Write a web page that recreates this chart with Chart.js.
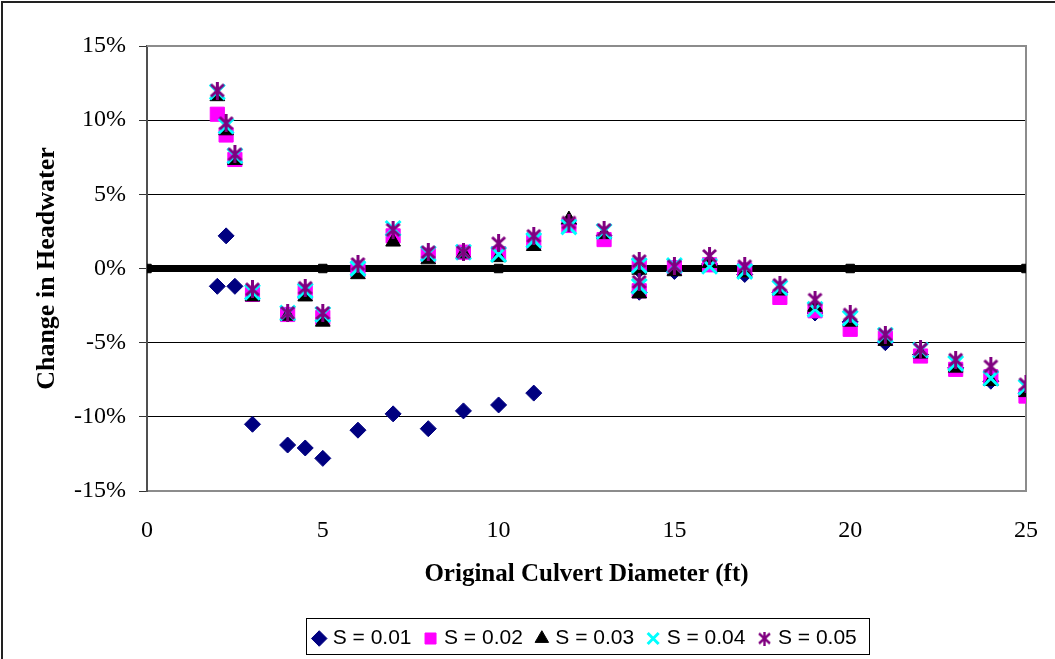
<!DOCTYPE html>
<html>
<head>
<meta charset="utf-8">
<title>Change in Headwater vs Original Culvert Diameter</title>
<script src="https://cdn.jsdelivr.net/npm/chart.js@4/dist/chart.umd.min.js"></script>
<style>
  html, body { margin: 0; padding: 0; background: #fff; }
  #wrap { width: 1055px; height: 659px; }
</style>
</head>
<body>
<div id="wrap"><canvas id="c" width="1055" height="659"></canvas></div>
<script>
// Original culvert diameters (ft); 14 ft appears twice (two culvert cases).
const diameters = [2, 2.25, 2.5, 3, 4, 4.5, 5, 6, 7, 8, 9, 10, 11, 12, 13, 14, 14, 15, 16, 17, 18, 19, 20, 21, 22, 23, 24, 25];

// Change in headwater (%) for each slope
const s001 = [-1.2, 2.2, -1.2, -10.5, -11.9, -12.1, -12.8, -10.9, -9.8, -10.8, -9.6, -9.2, -8.4, 3.0, 2.2, -0.1, -1.6, -0.2, 0.3, -0.4, -1.6, -3.0, -3.6, -5.0, -5.8, -6.7, -7.6, -8.4];
const s002 = [10.4, 9.0, 7.35, -1.75, -3.1, -1.6, -3.3, -0.1, 2.2, 0.9, 1.1, 1.0, 1.8, 2.9, 1.95, 0.2, -1.5, 0.05, 0.25, -0.1, -1.95, -2.85, -4.1, -4.7, -5.9, -6.8, -7.3, -8.6];
const s003 = [11.6, 9.3, 7.3, -1.9, -3.2, -1.9, -3.6, -0.4, 1.8, 0.6, 1.0, 0.75, 1.5, 3.3, 2.3, -0.1, -1.7, -0.2, 0.35, -0.3, -1.5, -2.6, -3.6, -4.9, -5.75, -6.7, -7.6, -8.35];
const s004 = [11.9, 9.6, 7.6, -1.6, -3.0, -1.5, -3.1, 0.0, 2.7, 1.0, 1.1, 0.95, 1.9, 2.8, 2.5, 0.2, -1.2, 0.2, 0.15, -0.2, -1.3, -2.75, -3.35, -4.5, -5.5, -6.4, -7.4, -8.0];
const s005 = [12.0, 9.8, 7.7, -1.4, -3.0, -1.3, -3.0, 0.3, 2.6, 1.1, 1.1, 1.7, 2.2, 3.1, 2.6, 0.5, -0.9, 0.15, 0.85, 0.15, -1.1, -2.1, -3.1, -4.45, -5.45, -6.15, -6.6, -7.8];

const seriesLabels = ['S = 0.01', 'S = 0.02', 'S = 0.03', 'S = 0.04', 'S = 0.05'];

// Zero reference line
const zeroX = [0, 5, 10, 15, 20, 25];
const zeroY = [0, 0, 0, 0, 0, 0];

const yTicks = [-15, -10, -5, 0, 5, 10, 15];
const xTicks = [0, 5, 10, 15, 20, 25];

const serif = "'Liberation Serif', 'Times New Roman', serif";
const sans = "'Liberation Sans', Arial, sans-serif";

function pts(xs, ys) { return xs.map((x, i) => ({ x: x, y: ys[i] })); }

// Asterisk marker: an X with a vertical stroke
function asterisk(w, h, lw, color) {
  const c = document.createElement('canvas');
  c.width = w; c.height = h;
  const g = c.getContext('2d');
  g.strokeStyle = color; g.lineWidth = lw; g.lineCap = 'butt';
  const ix = Math.round(w * 0.1), iy = Math.round(h * 0.15);
  g.beginPath();
  g.moveTo(w / 2, 0); g.lineTo(w / 2, h);
  g.moveTo(ix, iy); g.lineTo(w - ix, h - iy);
  g.moveTo(w - ix, iy); g.lineTo(ix, h - iy);
  g.stroke();
  return c;
}
const starMark = asterisk(17, 18, 3, '#800080');
const starLegend = asterisk(13, 14, 2.4, '#800080');

const frame = {
  id: 'frame',
  beforeDraw(chart) {
    const ctx = chart.ctx;
    ctx.save();
    ctx.fillStyle = '#fff';
    ctx.fillRect(0, 0, chart.width, chart.height);
    ctx.restore();
  },
  beforeDatasetsDraw(chart) {
    const { ctx, chartArea: a } = chart;
    ctx.save();
    ctx.strokeStyle = '#8c8c8c';
    ctx.lineWidth = 2;
    ctx.beginPath();
    ctx.moveTo(a.left, a.top);
    ctx.lineTo(a.right, a.top);
    ctx.lineTo(a.right, a.bottom);
    ctx.stroke();
    ctx.restore();
  },
  afterDraw(chart) {
    const ctx = chart.ctx;
    ctx.save();
    // outer border
    ctx.strokeStyle = '#222';
    ctx.lineWidth = 2;
    ctx.strokeRect(2, 2, chart.width + 20, chart.height + 20);
    // legend box
    const lg = chart.legend;
    const hb = lg.legendHitBoxes;
    if (hb && hb.length) {
      const first = hb[0], last = hb[hb.length - 1];
      const l = Math.round(first.left - 10) + 0.5;
      const r = Math.round(last.left + last.width + 12) + 0.5;
      const t = Math.round(lg.top + 6) + 0.5;
      ctx.strokeStyle = '#000';
      ctx.lineWidth = 1;
      ctx.strokeRect(l, t, r - l, 36);
    }
    ctx.restore();
  }
};

new Chart(document.getElementById('c'), {
  type: 'scatter',
  data: {
    datasets: [
      {
        label: 'zero', data: pts(zeroX, zeroY), showLine: true,
        borderColor: '#000', backgroundColor: '#000', borderWidth: 7,
        borderJoinStyle: 'round', borderCapStyle: 'butt',
        pointStyle: 'rect', pointRadius: 6, pointBackgroundColor: '#000',
        pointBorderColor: '#000', pointBorderWidth: 1, order: 10
      },
      {
        label: seriesLabels[0], data: pts(diameters, s001),
        pointStyle: 'rectRot', pointRadius: 8, backgroundColor: '#000080', borderColor: '#000080', borderWidth: 1, order: 5
      },
      {
        label: seriesLabels[1], data: pts(diameters, s002),
        pointStyle: 'rect', pointRadius: 10, backgroundColor: '#ff00ff', borderColor: '#ff00ff', borderWidth: 1, order: 4
      },
      {
        label: seriesLabels[2], data: pts(diameters, s003),
        pointStyle: 'triangle', pointRadius: 8.5, backgroundColor: '#000', borderColor: '#000', borderWidth: 1, order: 3
      },
      {
        label: seriesLabels[3], data: pts(diameters, s004),
        pointStyle: 'crossRot', pointRadius: 10.5, backgroundColor: '#00ffff', borderColor: '#00ffff', borderWidth: 3, order: 2
      },
      {
        label: seriesLabels[4], data: pts(diameters, s005),
        pointStyle: starMark, pointRadius: 8, backgroundColor: '#800080', borderColor: '#800080', borderWidth: 3, order: 1
      }
    ]
  },
  options: {
    responsive: false,
    animation: false,
    layout: { padding: { left: 0, top: 46, right: 23, bottom: 0 } },
    scales: {
      x: {
        type: 'linear', min: 0, max: 25,
        afterFit(s) { s.height = 121; },
        afterBuildTicks(s) { s.ticks = xTicks.map(v => ({ value: v })); },
        grid: { display: false },
        border: { display: true, color: '#8c8c8c', width: 2 },
        ticks: { color: '#000', padding: 17, maxRotation: 0, font: { family: serif, size: 24 } },
        title: {
          display: true, text: 'Original Culvert Diameter (ft)', color: '#000',
          padding: { top: 0, bottom: 22 },
          font: { family: serif, size: 25, weight: 'bold' }
        }
      },
      y: {
        type: 'linear', min: -15, max: 15,
        afterFit(s) { s.width = 147; },
        afterBuildTicks(s) { s.ticks = yTicks.map(v => ({ value: v })); },
        grid: {
          color: ctx => (ctx.tick && Math.abs(ctx.tick.value) === 15) ? 'rgba(0,0,0,0)' : '#000',
          lineWidth: 1, tickColor: '#333', tickLength: 8, drawTicks: true
        },
        border: { display: true, color: '#505050', width: 2 },
        ticks: { color: '#000', padding: 13, callback: v => v + '%', font: { family: serif, size: 24 } },
        title: {
          display: true, text: 'Change in Headwater', color: '#000',
          padding: { top: 32, bottom: 0 },
          font: { family: serif, size: 26, weight: 'bold' }
        }
      }
    },
    plugins: {
      tooltip: { enabled: false },
      legend: {
        display: true, position: 'bottom', align: 'center', fullSize: false,
        labels: {
          usePointStyle: true, boxWidth: 6, boxHeight: 11, padding: 16, color: '#000',
          font: { family: sans, size: 21 },
          generateLabels(chart) {
            const items = Chart.defaults.plugins.legend.labels.generateLabels(chart)
              .filter(it => it.datasetIndex !== 0)
              .sort((a, b) => a.datasetIndex - b.datasetIndex);
            items.forEach(it => { if (it.datasetIndex === 5) it.pointStyle = starLegend; });
            return items;
          }
        }
      }
    }
  },
  plugins: [frame]
});
</script>
</body>
</html>
